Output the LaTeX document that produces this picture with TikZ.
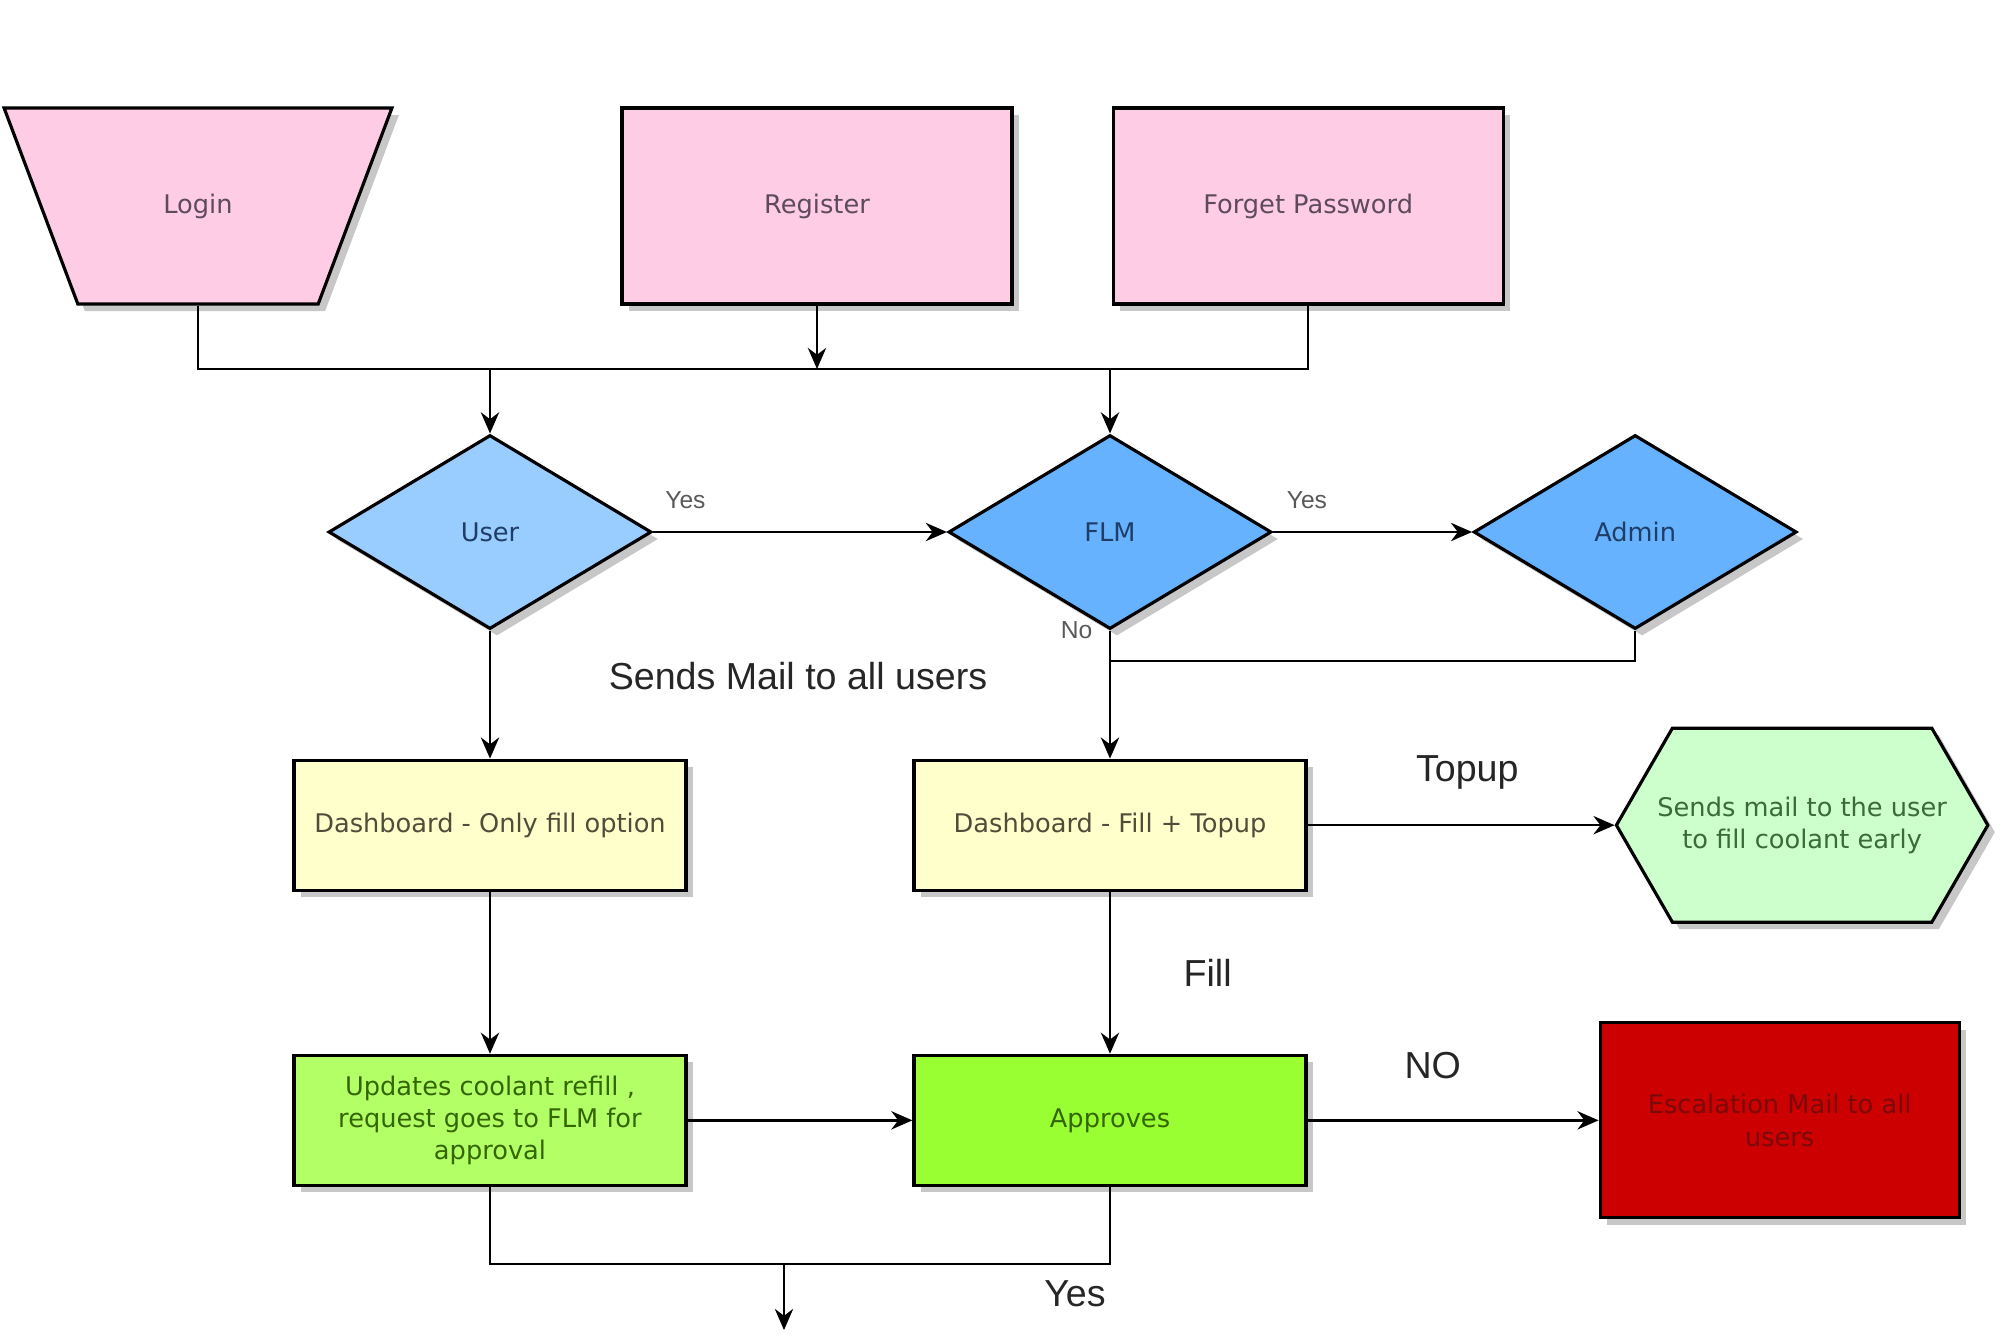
\documentclass[tikz,border=0pt]{standalone}
\usepackage{fontspec}
\setmainfont{DejaVu Sans}
\newfontfamily\labelfont{Liberation Sans}
\usepackage{tikz}
\usetikzlibrary{arrows,arrows.meta}
\usetikzlibrary{shapes.geometric,shapes.symbols,shadows,positioning}

\definecolor{pinkfill}{HTML}{FFCCE6}
\definecolor{pinktext}{HTML}{5E4A5E}
\definecolor{bluelight}{HTML}{99CCFF}
\definecolor{bluemid}{HTML}{66B2FF}
\definecolor{bluetext}{HTML}{1F3D66}
\definecolor{yellowfill}{HTML}{FFFFCC}
\definecolor{yellowtext}{HTML}{4D4D3A}
\definecolor{hexfill}{HTML}{CCFFCC}
\definecolor{hextext}{HTML}{3A6B3A}
\definecolor{updfill}{HTML}{B3FF66}
\definecolor{apprfill}{HTML}{99FF33}
\definecolor{greentext}{HTML}{336600}
\definecolor{escfill}{HTML}{CC0000}
\definecolor{esctext}{HTML}{7A0A0A}

\begin{document}
\begin{tikzpicture}[every node/.style={line width=0.9pt,align=center},
    line width=0.75pt, >={Stealth[length=6pt,width=5.2pt]},
    shadowed/.style={drop shadow={shadow xshift=0.07cm,shadow yshift=-0.07cm,fill=black!22,opacity=1}},
    boxtext/.style={font=\fontsize{7.3}{9.2}\selectfont},
    pinkbox/.style={draw,rectangle,shadowed,boxtext,fill=pinkfill,text=pinktext,minimum width=3.90cm,minimum height=1.96cm},
    pinktrap/.style={pinkbox,trapezium,trapezium stretches=true,trapezium left angle=59.5,trapezium right angle=59.5,shape border rotate=180,minimum width=3.88cm},
    bluedec/.style={draw,diamond,shadowed,boxtext,fill=bluemid,text=bluetext,aspect=1.66,inner sep=0pt,minimum width=3.23cm,minimum height=1.94cm},
    yellowbox/.style={draw,rectangle,shadowed,boxtext,fill=yellowfill,text=yellowtext,minimum width=3.92cm,minimum height=1.30cm},
    greenbox/.style={draw,rectangle,shadowed,boxtext,fill=apprfill,text=greentext,minimum width=3.92cm,minimum height=1.30cm,inner sep=1pt},
    hexnode/.style={draw,signal,signal to=west and east,signal pointer angle=120,shadowed,boxtext,fill=hexfill,text=hextext,inner xsep=-0.15cm,inner ysep=1pt,minimum height=1.94cm},
    escbox/.style={draw,rectangle,shadowed,boxtext,fill=escfill,text=esctext,minimum width=3.59cm,minimum height=1.95cm},
    smalllabel/.style={inner sep=0pt,text=black!65,font=\labelfont\fontsize{7}{8}\selectfont},
    biglabel/.style={inner sep=0pt,text=black!85,font=\labelfont\fontsize{10.7}{12}\selectfont}]

    \useasboundingbox (0,0) rectangle (20,-13.33);

    % login options
    \node[pinktrap] (login) at (1.98,-2.06) {Login};
    \node[pinkbox] (reg) at (8.17,-2.06) {Register};
    \node[pinkbox, right=0.98cm of reg] (fp) {Forget Password};

    % roles
    \node[bluedec, fill=bluelight] (user) at (4.90,-5.32) {User};
    \node[bluedec] (flm) at (11.10,-5.32) {FLM};
    \node[bluedec, right=1.99cm of flm] (admin) {Admin};
    \node[biglabel] (allmail) at (7.98,-6.76) {Sends Mail to all users};

    % dashboards
    \node[yellowbox, below=1.28cm of user] (dashonly) {Dashboard - Only fill option};
    \node[yellowbox, below=1.28cm of flm] (dashfill) {Dashboard - Fill + Topup};
    \node[hexnode, right=3.07cm of dashfill] (earlymail) {Sends mail to the user\\to fill coolant early};

    % refill and approval
    \node[greenbox, fill=updfill, below=1.62cm of dashonly] (update) {Updates coolant refill ,\\request goes to FLM for\\approval};
    \node[greenbox, below=1.62cm of dashfill] (approve) {Approves};
    \node[escbox, right=2.91cm of approve] (escalate) {Escalation Mail to all\\users};
    \node[biglabel] (yesout) at (10.75,-12.94) {Yes};

    \coordinate (bus) at (0,-3.69);
    \coordinate (adminjoin) at (11.10,-6.61);
    \coordinate (joinbot) at (0,-12.64);
    \coordinate (exit) at (7.84,-13.30);

    \draw (login.south) -- (login.south |- bus) -- (fp.south |- bus) -- (fp.south);
    \draw[->] (reg.south) -- (reg.south |- bus);
    \draw[->] (user.north |- bus) -- (user.north);
    \draw[->] (flm.north |- bus) -- (flm.north);
    \draw[->] (user.east) -- (flm.west) node[pos=0.11,above=0.22cm,smalllabel] {Yes};
    \draw[->] (flm.east) -- (admin.west) node[pos=0.17,above=0.22cm,smalllabel] {Yes};
    \node[smalllabel, left=0.16cm of flm.south] (no) {No};
    \draw (admin.south) |- (adminjoin);
    \draw[->] (flm.south) -- (dashfill.north);
    \draw[->] (user.south) -- (dashonly.north);
    \draw[->] (dashfill.east) -- (earlymail.west) node[pos=0.52,above=0.34cm,biglabel] {Topup};
    \draw[->] (dashonly.south) -- (update.north);
    \draw[->] (dashfill.south) -- (approve.north) node[midway,right=0.72cm,biglabel] {Fill};
    \draw[->] (update.east) -- (approve.west);
    \draw[->] (approve.east) -- (escalate.west) node[pos=0.43,above=0.4cm,biglabel] {NO};
    \draw (update.south) |- (approve.south |- joinbot) -- (approve.south);
    \draw[->] (exit |- joinbot) -- (exit);
\end{tikzpicture}
\end{document}
